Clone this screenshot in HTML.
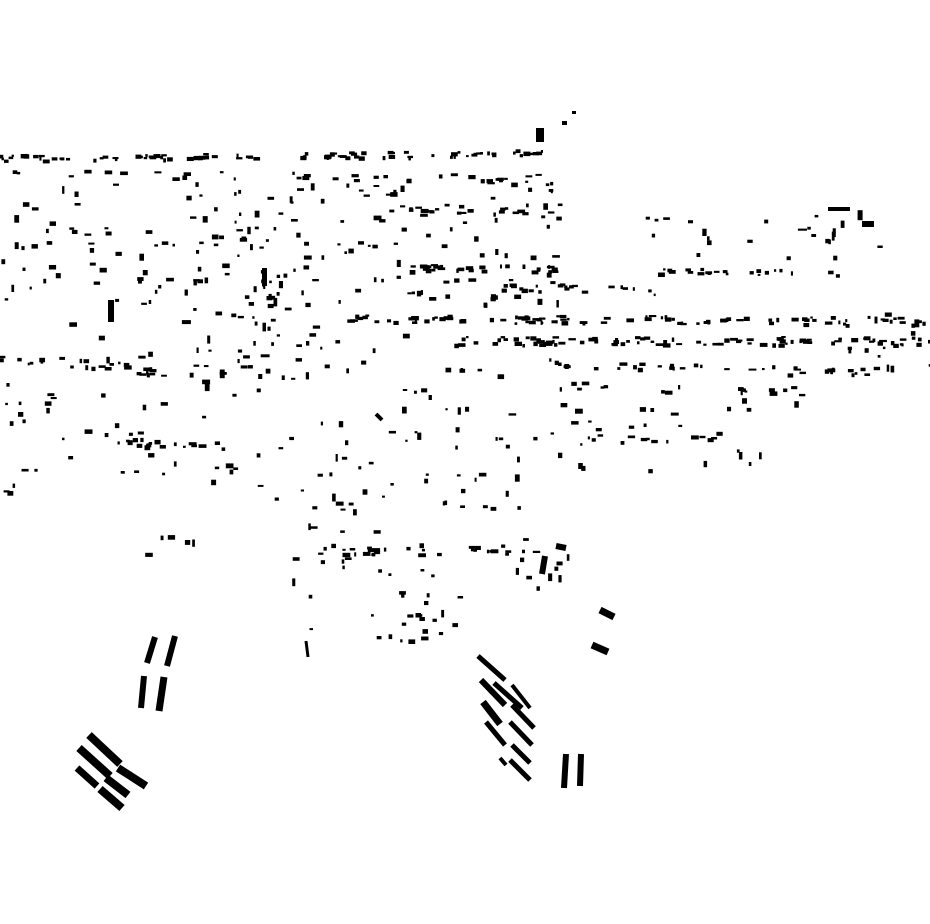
<!DOCTYPE html>
<html><head><meta charset="utf-8">
<style>
html,body{margin:0;padding:0;background:#fff;}
svg{display:block;}
</style></head>
<body>
<svg id="m" width="930" height="924" viewBox="0 0 930 924" xmlns="http://www.w3.org/2000/svg">
<rect width="930" height="924" fill="#fff"/>
<g stroke="#000" stroke-linecap="butt" fill="none">
 <line x1="155" y1="637" x2="147" y2="663" stroke-width="6"/>
 <line x1="175" y1="636" x2="167" y2="666" stroke-width="6"/>
 <line x1="144" y1="676" x2="141" y2="708" stroke-width="6"/>
 <line x1="164" y1="677" x2="159" y2="711" stroke-width="7"/>
 <line x1="89" y1="735" x2="120" y2="764" stroke-width="8"/>
 <line x1="79" y1="748" x2="110" y2="776" stroke-width="8"/>
 <line x1="77" y1="768" x2="97" y2="786" stroke-width="7"/>
 <line x1="118" y1="768" x2="146" y2="786" stroke-width="8"/>
 <line x1="106" y1="778" x2="128" y2="795" stroke-width="8"/>
 <line x1="100" y1="789" x2="122" y2="808" stroke-width="8"/>
 <line x1="478" y1="656" x2="505" y2="680" stroke-width="5"/>
 <line x1="481" y1="680" x2="505" y2="705" stroke-width="6"/>
 <line x1="494" y1="683" x2="522" y2="708" stroke-width="5"/>
 <line x1="512" y1="685" x2="530" y2="708" stroke-width="4"/>
 <line x1="483" y1="702" x2="500" y2="724" stroke-width="7"/>
 <line x1="512" y1="705" x2="534" y2="728" stroke-width="5"/>
 <line x1="486" y1="722" x2="505" y2="745" stroke-width="5"/>
 <line x1="510" y1="722" x2="532" y2="745" stroke-width="5"/>
 <line x1="512" y1="745" x2="530" y2="763" stroke-width="5"/>
 <line x1="500" y1="758" x2="506" y2="765" stroke-width="4"/>
 <line x1="510" y1="760" x2="530" y2="780" stroke-width="5"/>
 <line x1="566" y1="754" x2="564" y2="788" stroke-width="6"/>
 <line x1="581" y1="754" x2="580" y2="786" stroke-width="6"/>
 <line x1="600" y1="610" x2="614" y2="617" stroke-width="7"/>
 <line x1="592" y1="645" x2="608" y2="652" stroke-width="7"/>
 <line x1="306" y1="641" x2="308" y2="657" stroke-width="3"/>
 <line x1="382" y1="420" x2="376" y2="414" stroke-width="4"/>
 <line x1="566" y1="548" x2="556" y2="546" stroke-width="6"/>
 <line x1="545" y1="556" x2="542" y2="574" stroke-width="6"/>
 <line x1="568" y1="112" x2="564" y2="126" stroke-width="0"/>
</g>
<g id="b" fill="#000"></g>
</svg>
<script>
(function(){
var s=12345;function r(){s|=0;s=s+0x6D2B79F5|0;var t=Math.imul(s^s>>>15,1|s);t=t+Math.imul(t^t>>>7,61|t)^t;return((t^t>>>14)>>>0)/4294967296;}
var g=document.getElementById('b'),h='';
function zone(x0,y0,x1,y1,n,sz){for(var i=0;i<n;i++){var x=x0+r()*(x1-x0),y=y0+r()*(y1-y0);var w=2+r()*(sz||6),hh=2+r()*3;if(r()<0.35){var t=w;w=hh;hh=t;}h+='<rect x="'+x.toFixed(1)+'" y="'+y.toFixed(1)+'" width="'+w.toFixed(1)+'" height="'+hh.toFixed(1)+'"/>';}}
function line(x0,y0,x1,y1,n,sz,jit){for(var i=0;i<n;i++){var t=r();var x=x0+(x1-x0)*t+(r()-.5)*jit,y=y0+(y1-y0)*t+(r()-.5)*jit;var w=2+r()*(sz||6),hh=2+r()*2.5;h+='<rect x="'+x.toFixed(1)+'" y="'+y.toFixed(1)+'" width="'+w.toFixed(1)+'" height="'+hh.toFixed(1)+'"/>';}}
line(0,157,545,152,90,5,6);
line(5,172,550,178,35,6,8);
line(400,205,560,215,22,6,8);
line(410,266,555,268,28,6,6);
line(490,285,660,290,22,5,8);
line(640,270,840,272,22,5,6);
line(340,318,930,320,90,6,8);
line(450,340,930,340,90,6,8);
line(540,362,870,372,35,6,8);
line(0,355,170,372,25,6,10);
line(120,440,225,445,18,6,8);
line(560,385,800,390,18,6,8);
line(575,437,720,437,14,6,6);
line(320,550,440,550,18,6,8);
line(465,548,540,550,10,6,5);
zone(0,180,560,300,170,6);
zone(180,280,320,380,30,7);
zone(640,210,880,260,20,6);
zone(780,205,880,235,4,10);
zone(60,290,560,380,50,6);
zone(0,380,240,480,35,6);
zone(250,380,520,510,55,6);
zone(530,380,800,470,30,6);
zone(290,480,460,640,30,6);
zone(385,590,440,640,12,6);
zone(500,520,570,610,12,6);
zone(135,528,195,560,5,6);
zone(840,310,930,372,18,6);
zone(0,410,40,510,5,4);
h+='<rect x="536" y="128" width="8" height="14"/><rect x="562" y="121" width="5" height="4"/><rect x="572" y="111" width="4" height="3"/>';
h+='<rect x="828" y="207" width="22" height="4"/><rect x="862" y="221" width="12" height="6"/><rect x="108" y="300" width="6" height="22"/><rect x="262" y="268" width="5" height="18"/>';
g.innerHTML=h;
})();
</script>
</body></html>
